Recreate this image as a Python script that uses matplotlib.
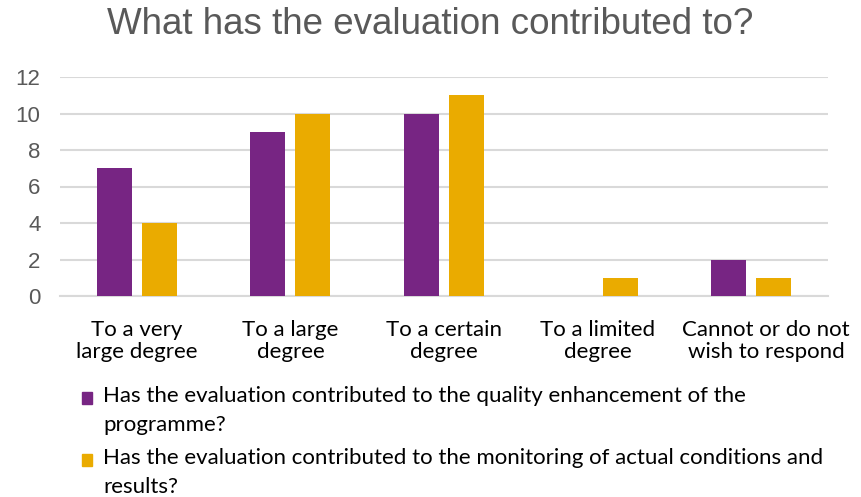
import matplotlib.pyplot as plt
import matplotlib.transforms as mtransforms
import numpy as np
from matplotlib.patches import Rectangle

# data
categories = ['To a very\nlarge degree', 'To a large\ndegree', 'To a certain\ndegree',
              'To a limited\ndegree', 'Cannot or do not\nwish to respond']
quality = [7, 9, 10, 0, 2]
monitoring = [4, 10, 11, 1, 1]
series_labels = ['Has the evaluation contributed to the quality enhancement of the\nprogramme?',
                 'Has the evaluation contributed to the monitoring of actual conditions and\nresults?']
yticks = [0, 2, 4, 6, 8, 10, 12]

purple = '#772583'
gold = '#EAAB00'

plt.rcParams['font.family'] = ['Liberation Sans', 'DejaVu Sans']

fig = plt.figure(figsize=(8.61, 4.97), dpi=100)
ax = fig.add_axes([60/861, 1-296/497, (828-60)/861, (296-77)/497])

x = np.arange(len(categories))
w = 0.228
ax.bar(x - 0.147, quality, w, color=purple, zorder=3)
ax.bar(x + 0.147, monitoring, w, color=gold, zorder=3)

ax.set_xlim(-0.5, 4.5)
ax.set_ylim(0, 12)
ax.set_yticks(yticks)
ax.set_yticklabels(yticks, fontsize=16, color='#595959')
ax.set_xticks(x)
ax.set_xticklabels(categories, fontsize=16, color='#000000', linespacing=1.15,
                   family=['Lato', 'DejaVu Sans'])
ax.tick_params(axis='both', length=0)
ax.tick_params(axis='y', pad=14)
ax.tick_params(axis='x', pad=17)
ax.grid(axis='y', color='#d9d9d9', linewidth=1.5, zorder=0)
for s in ['top', 'right', 'left']:
    ax.spines[s].set_visible(False)
ax.spines['bottom'].set_color('#d9d9d9')
ax.spines['bottom'].set_linewidth(1.5)

# last category label sits a bit to the right in the original
lastlab = ax.get_xticklabels()[-1]
lastlab.set_transform(lastlab.get_transform() +
                      mtransforms.ScaledTranslation(15/100, 0, fig.dpi_scale_trans))

fig.text(0.5, 1-24/497, 'What has the evaluation contributed to?', ha='center', va='center',
         fontsize=26.5, color='#595959')

# legend (drawn by hand to match the wrapped layout)
line_y = [[396, 425], [458, 487]]
for lab, col, ys in zip(series_labels, [purple, gold], line_y):
    fig.add_artist(Rectangle((82/861, 1-(ys[0]+8)/497), 10/861, 12/497,
                             transform=fig.transFigure, color=col))
    for txt, yy in zip(lab.split('\n'), ys):
        fig.text(103/861, 1-yy/497, txt, ha='left', va='center', fontsize=16,
                 family=['Lato', 'DejaVu Sans'], color='#000000')

fig.savefig('out.png', dpi=100)
